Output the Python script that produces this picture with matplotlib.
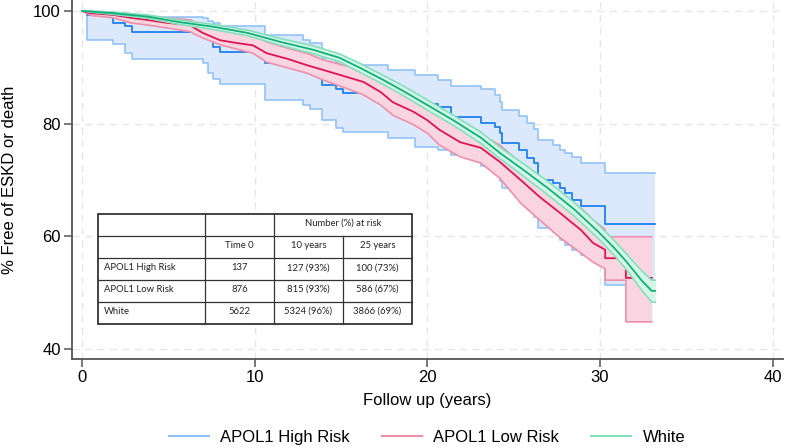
import matplotlib
matplotlib.use("Agg")
import matplotlib.pyplot as plt

# APOL1 High Risk (Kaplan-Meier, step function)
high_t = [0.0, 0.29, 1.8, 2.5, 2.9, 7.0, 7.3, 7.6, 8.0, 10.6, 12.8, 13.2, 13.9, 14.7, 15.1,
          17.7, 19.3, 20.6, 21.4, 23.1, 23.9, 24.2, 24.3, 25.3, 25.8, 26.2, 26.4, 27.3,
          27.7, 28.0, 28.4, 28.9, 30.3, 33.2]
high_s = [100, 99.3, 97.9, 97.3, 96.3, 96.1, 95.2, 93.6, 92.7, 90.8, 89.9, 89.2, 86.9, 86.1,
          85.4, 84.7, 83.5, 82.9, 81.2, 80.1, 79.4, 78.3, 76.6, 75.3, 73.9, 73.0, 70.0, 69.4,
          68.6, 67.7, 66.4, 65.4, 62.2, 62.2]
high_lo = [100, 94.9, 94.1, 92.5, 91.5, 90.8, 89.0, 87.9, 87.0, 84.2, 83.3, 82.6, 80.6, 79.2,
           78.5, 77.4, 75.8, 75.3, 74.5, 72.5, 71.0, 69.8, 68.5, 66.5, 64.8, 63.5, 61.5, 60.7,
           59.3, 58.5, 57.5, 56.7, 51.3, 51.3]
high_hi = [100, 99.9, 99.6, 99.3, 98.9, 98.8, 98.3, 97.8, 97.3, 95.7, 94.8, 94.3, 91.6, 91.0,
           90.4, 89.5, 88.6, 87.7, 86.7, 86.1, 85.0, 83.8, 82.5, 81.3, 80.1, 79.0, 77.1, 76.2,
           75.3, 74.8, 74.1, 73.0, 71.2, 71.2]

# APOL1 Low Risk
low_t = [0.0, 0.5, 1.8, 2.8, 3.8, 4.9, 6.3, 6.5, 7.0, 8.0, 9.0, 9.9, 10.7, 11.9, 13.0, 14.0,
         15.1, 16.3, 17.3, 18.0, 19.2, 20.0, 20.7, 21.9, 23.1, 24.2, 25.4, 26.5, 27.7, 28.9,
         29.6, 30.3, 30.3, 31.5, 31.5, 33.0]
low_s = [100, 99.6, 99.3, 98.8, 98.4, 97.9, 97.5, 97.0, 96.1, 94.8, 94.3, 93.9, 92.5, 91.5,
         90.4, 89.5, 88.5, 87.4, 85.6, 83.8, 82.1, 80.6, 78.9, 76.7, 75.7, 73.2, 70.0, 67.0,
         64.1, 61.1, 58.8, 57.6, 56.1, 56.1, 52.6, 52.6]
low_lo = [100, 99.2, 98.8, 97.9, 97.5, 97.0, 96.3, 95.9, 95.2, 94.0, 93.2, 92.5, 90.9, 89.9,
          89.0, 87.7, 86.5, 85.1, 83.3, 81.5, 79.8, 78.3, 76.2, 74.1, 73.0, 70.3, 65.9, 62.9,
          59.7, 57.0, 55.4, 54.2, 52.2, 52.2, 44.8, 44.8]
low_hi = [100, 99.9, 99.7, 99.3, 99.1, 98.8, 98.4, 98.0, 97.5, 96.6, 96.1, 95.7, 94.5, 93.4,
          92.5, 91.3, 90.4, 89.5, 87.7, 86.3, 84.5, 82.9, 81.4, 79.5, 78.0, 76.2, 73.0, 70.5,
          67.7, 65.0, 62.9, 61.2, 59.9, 59.9, 59.9, 59.9]

# White
white_t = [0.0, 0.5, 1.8, 3.8, 5.7, 7.6, 9.6, 11.5, 13.4, 14.9, 16.1, 17.3, 18.6, 20.0, 21.5,
           23.1, 24.2, 25.6, 27.0, 28.5, 29.9, 30.8, 31.5, 32.4, 33.0, 33.2]
white_s = [100, 99.9, 99.6, 99.0, 98.0, 97.2, 96.1, 94.5, 93.1, 91.7, 89.9, 88.0, 85.8, 83.3,
           80.6, 77.5, 74.8, 71.7, 68.5, 64.8, 60.8, 58.0, 55.6, 52.2, 50.3, 50.3]
white_lo = [100, 99.8, 99.4, 98.7, 97.6, 96.7, 95.6, 93.9, 92.4, 91.0, 89.1, 87.2, 85.0, 82.4,
            79.7, 76.5, 73.8, 70.6, 67.3, 63.6, 59.6, 56.7, 54.2, 50.5, 48.3, 48.3]
white_hi = [100, 100, 99.8, 99.3, 98.4, 97.6, 96.6, 95.1, 93.8, 92.4, 90.7, 88.8, 86.7, 84.2,
            81.5, 78.5, 75.8, 72.8, 69.7, 66.0, 62.1, 59.3, 57.0, 53.9, 52.2, 52.2]

# at-risk table
tbl_groups = ["APOL1 High Risk", "APOL1 Low Risk", "White"]
tbl_time0 = ["137", "876", "5622"]
tbl_10y = ["127 (93%)", "815 (93%)", "5324 (96%)"]
tbl_25y = ["100 (73%)", "586 (67%)", "3866 (69%)"]

plt.rcParams["font.family"] = ["Liberation Sans", "DejaVu Sans"]

fig = plt.figure(figsize=(7.87, 4.48), dpi=100)
ax = fig.add_axes([72 / 787, 89 / 448, 711 / 787, 359 / 448])

groups = [
    ("APOL1 High Risk", high_t, high_s, high_lo, high_hi, "#1e80ee", "#92c3f7", "#dce9fc", "steps-post"),
    ("APOL1 Low Risk", low_t, low_s, low_lo, low_hi, "#dd1552", "#ee8fab", "#f8d5e0", "default"),
    ("White", white_t, white_s, white_lo, white_hi, "#12b07a", "#86dfbc", "#d5f5e8", "default"),
]

handles = []
for i, (name, t, s, lo, hi, c_main, c_ci, c_fill, ds) in enumerate(groups):
    z = 2 + i * 3
    step = "post" if ds == "steps-post" else None
    ax.fill_between(t, lo, hi, step=step, color=c_fill, lw=0, zorder=z)
    ax.plot(t, lo, color=c_ci, lw=1.2, drawstyle=ds, zorder=z + 1)
    ax.plot(t, hi, color=c_ci, lw=1.2, drawstyle=ds, zorder=z + 1)
    ax.plot(t, s, color=c_main, lw=1.3, drawstyle=ds, zorder=z + 2)
    h, = ax.plot([], [], color=c_ci, lw=1.5, label=name)
    handles.append(h)

ax.set_xlim(-0.58, 40.6)
ax.set_ylim(38.2, 101.95)
ax.set_xticks([0, 10, 20, 30, 40])
ax.set_yticks([40, 60, 80, 100])
ax.grid(True, color="#e6e6e6", ls=(0, (5, 4)), lw=1.0, zorder=0)
ax.set_axisbelow(True)
for sp in ["top", "right"]:
    ax.spines[sp].set_visible(False)
for sp in ["left", "bottom"]:
    ax.spines[sp].set_color("#555555")
    ax.spines[sp].set_linewidth(1.3)
ax.tick_params(colors="#555555", labelcolor="black", length=6, width=1.1, labelsize=12, pad=2)
ax.set_xlabel("Follow up (years)", fontsize=12, labelpad=6)
ax.set_ylabel("% Free of ESKD or death", fontsize=12)
ax.yaxis.set_label_coords(-0.077, 0.5)

# number at risk table (axes fraction)
col_x = [0.0366, 0.187, 0.284, 0.381, 0.478]
row_y = [0.404, 0.343, 0.281, 0.220, 0.159, 0.0975]
tf = ["Lato", "DejaVu Sans"]
tr = ax.transAxes
ax.add_patch(plt.Rectangle((col_x[0], row_y[-1]), col_x[-1] - col_x[0], row_y[0] - row_y[-1],
                           transform=tr, facecolor="white", edgecolor="#222222", lw=1.2, zorder=20))
for y in row_y[1:-1]:
    ax.plot([col_x[0], col_x[-1]], [y, y], transform=tr, color="#333333", lw=0.9, zorder=21)
for x in col_x[1:3]:
    ax.plot([x, x], [row_y[0], row_y[-1]], transform=tr, color="#333333", lw=0.9, zorder=21)
ax.plot([col_x[3], col_x[3]], [row_y[1], row_y[-1]], transform=tr, color="#333333", lw=0.9, zorder=21)


def cell(text, r, c, ha="center", c2=None):
    x0 = col_x[c]
    x1 = col_x[c2 + 1] if c2 is not None else col_x[c + 1]
    x = (x0 + x1) / 2 if ha == "center" else x0 + 0.008
    y = (row_y[r] + row_y[r + 1]) / 2 + 0.004
    ax.text(x, y, text, transform=tr, ha=ha, va="center", fontsize=6.8,
            family=tf, color="#222222", zorder=22)


cell("Number (%) at risk", 0, 2, c2=3)
cell("Time 0", 1, 1)
cell("10 years", 1, 2)
cell("25 years", 1, 3)
for r, (g, a, b, c) in enumerate(zip(tbl_groups, tbl_time0, tbl_10y, tbl_25y)):
    cell(g, r + 2, 0, ha="left")
    cell(a, r + 2, 1)
    cell(b, r + 2, 2)
    cell(c, r + 2, 3)

fig.legend(handles=handles, loc="center", bbox_to_anchor=(427 / 787, 1 - 437 / 448), ncol=3,
           frameon=False, fontsize=12, handlelength=2.4, handletextpad=0.7, columnspacing=1.9)

plt.savefig("out.png", dpi=100)
